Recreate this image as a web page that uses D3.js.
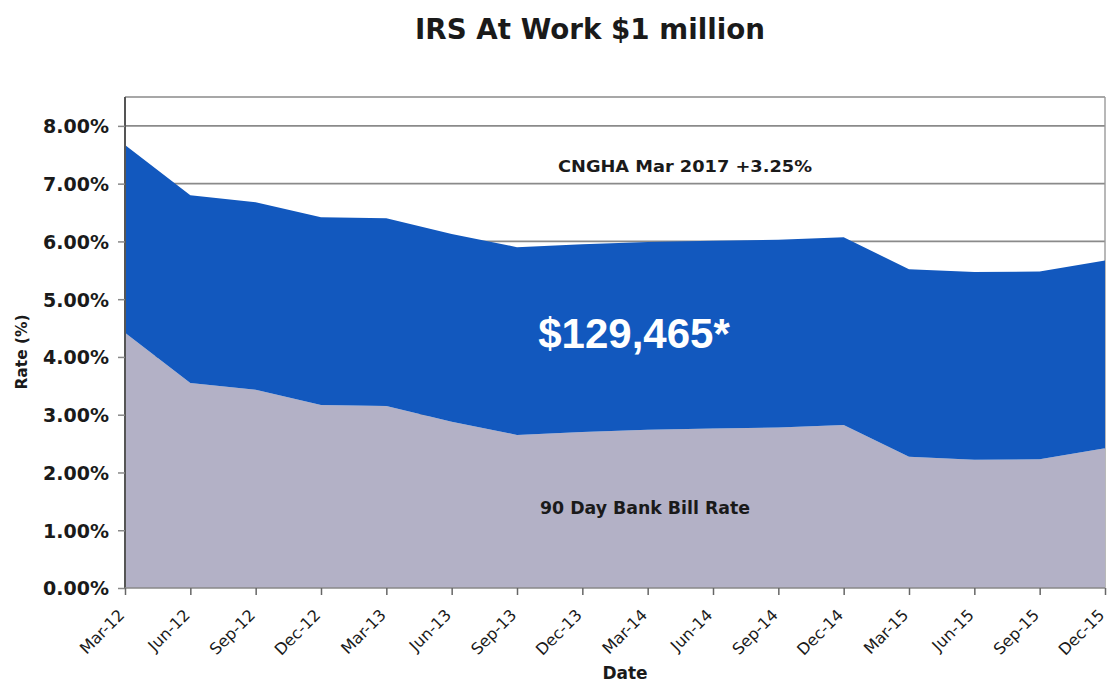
<!DOCTYPE html>
<html>
<head>
<meta charset="utf-8">
<script src="https://cdn.jsdelivr.net/npm/d3@7"></script>
<style>
  html, body { margin: 0; padding: 0; background: #fff; }
  svg { display: block; }
</style>
</head>
<body>
<svg id="chart" width="1108" height="682"></svg>
<script>
// Quarterly dates
const quarters = ["Mar-12","Jun-12","Sep-12","Dec-12","Mar-13","Jun-13","Sep-13","Dec-13",
                  "Mar-14","Jun-14","Sep-14","Dec-14","Mar-15","Jun-15","Sep-15","Dec-15"];
// 90 day bank bill rate (%)
const bankBill = [4.42, 3.55, 3.43, 3.17, 3.15, 2.88, 2.65, 2.70,
                  2.74, 2.76, 2.78, 2.82, 2.27, 2.22, 2.23, 2.42];
// CNGHA Mar 2017 margin over bank bill (%)
const margin = [3.25, 3.25, 3.25, 3.25, 3.25, 3.25, 3.25, 3.25,
                3.25, 3.25, 3.25, 3.25, 3.25, 3.25, 3.25, 3.25];
// Y axis ticks (%)
const yTicks = [0, 1, 2, 3, 4, 5, 6, 7, 8];

const rows = quarters.map((q, i) => ({ q, bankBill: bankBill[i], margin: margin[i] }));
const stacked = d3.stack().keys(["bankBill", "margin"])(rows);

const svg = d3.select("#chart");
const plot = { left: 125, right: 1105, top: 97, bottom: 588 };

const x = d3.scalePoint().domain(quarters).range([plot.left, plot.right]);
const y = d3.scaleLinear().domain([0, 8.5]).range([plot.bottom, plot.top]);

const fontMain = "Tahoma, 'DejaVu Sans', Verdana, sans-serif";

// gridlines
svg.append("g").selectAll("line").data(yTicks.filter(d => d > 0)).join("line")
  .attr("x1", plot.left).attr("x2", plot.right)
  .attr("y1", d => y(d)).attr("y2", d => y(d))
  .attr("stroke", "#8a8a8a").attr("stroke-width", 1.6);

// plot frame (top and right)
svg.append("line").attr("x1", plot.left).attr("x2", plot.right)
  .attr("y1", plot.top).attr("y2", plot.top)
  .attr("stroke", "#8a8a8a").attr("stroke-width", 1.6);
svg.append("line").attr("x1", plot.right).attr("x2", plot.right)
  .attr("y1", plot.top).attr("y2", plot.bottom)
  .attr("stroke", "#9a9a9a").attr("stroke-width", 1.4);

// stacked areas
const colors = { bankBill: "#b3b1c6", margin: "#1258be" };
const area = d3.area()
  .x(d => x(d.data.q))
  .y0(d => y(d[0]))
  .y1(d => y(d[1]));
svg.append("g").selectAll("path").data(stacked).join("path")
  .attr("d", area)
  .attr("fill", s => colors[s.key]);

// y axis
const yAxis = d3.axisLeft(y).tickValues(yTicks).tickSize(7).tickPadding(9)
  .tickFormat(d => d3.format(".2f")(d) + "%");
const gy = svg.append("g").attr("transform", `translate(${plot.left},0)`).call(yAxis);
gy.select(".domain").attr("stroke", "#555").attr("stroke-width", 2)
  .attr("d", `M0,${plot.top}V${plot.bottom}`);
gy.selectAll(".tick line").attr("stroke", "#888").attr("stroke-width", 1.5);
gy.selectAll(".tick text")
  .attr("font-family", fontMain).attr("font-weight", "bold")
  .attr("font-size", 19).attr("fill", "#1a1a1a").attr("dy", "0.36em");

// x axis
const xAxis = d3.axisBottom(x).tickSize(7).tickPadding(4);
const gx = svg.append("g").attr("transform", `translate(0,${plot.bottom})`).call(xAxis);
gx.select(".domain").attr("stroke", "#888").attr("stroke-width", 1.6)
  .attr("d", `M${plot.left},0H${plot.right}`);
gx.selectAll(".tick line").attr("stroke", "#666").attr("stroke-width", 1.5);
gx.selectAll(".tick text")
  .attr("font-family", fontMain).attr("font-size", 16).attr("fill", "#1a1a1a")
  .attr("text-anchor", "end")
  .attr("transform", "translate(0,28) rotate(-45)")
  .attr("x", 0).attr("y", 0).attr("dy", 0);

// title
svg.append("text").attr("x", 590).attr("y", 39).attr("text-anchor", "middle")
  .attr("font-family", fontMain).attr("font-weight", "bold").attr("font-size", 29)
  .attr("fill", "#1a1a1a")
  .attr("textLength", 350).attr("lengthAdjust", "spacingAndGlyphs")
  .text("IRS At Work $1 million");

// axis titles
svg.append("text").attr("transform", "translate(27,352) rotate(-90)")
  .attr("text-anchor", "middle")
  .attr("font-family", fontMain).attr("font-weight", "bold").attr("font-size", 16)
  .attr("fill", "#1a1a1a")
  .attr("textLength", 75).attr("lengthAdjust", "spacingAndGlyphs")
  .text("Rate (%)");
svg.append("text").attr("x", 625).attr("y", 679).attr("text-anchor", "middle")
  .attr("font-family", fontMain).attr("font-weight", "bold").attr("font-size", 17)
  .attr("fill", "#1a1a1a").text("Date");

// series annotations
svg.append("text").attr("x", 685).attr("y", 172).attr("text-anchor", "middle")
  .attr("font-family", fontMain).attr("font-weight", "bold").attr("font-size", 16)
  .attr("fill", "#1a1a1a")
  .attr("textLength", 254).attr("lengthAdjust", "spacingAndGlyphs")
  .text("CNGHA Mar 2017 +3.25%");
svg.append("text").attr("x", 634).attr("y", 348).attr("text-anchor", "middle")
  .attr("font-family", "'Liberation Sans', Arial, sans-serif").attr("font-weight", "bold")
  .attr("font-size", 42).attr("fill", "#ffffff")
  .text("$129,465*");
svg.append("text").attr("x", 645).attr("y", 514).attr("text-anchor", "middle")
  .attr("font-family", fontMain).attr("font-weight", "bold").attr("font-size", 17)
  .attr("fill", "#1a1a1a")
  .attr("textLength", 210).attr("lengthAdjust", "spacingAndGlyphs")
  .text("90 Day Bank Bill Rate");
</script>
</body>
</html>
